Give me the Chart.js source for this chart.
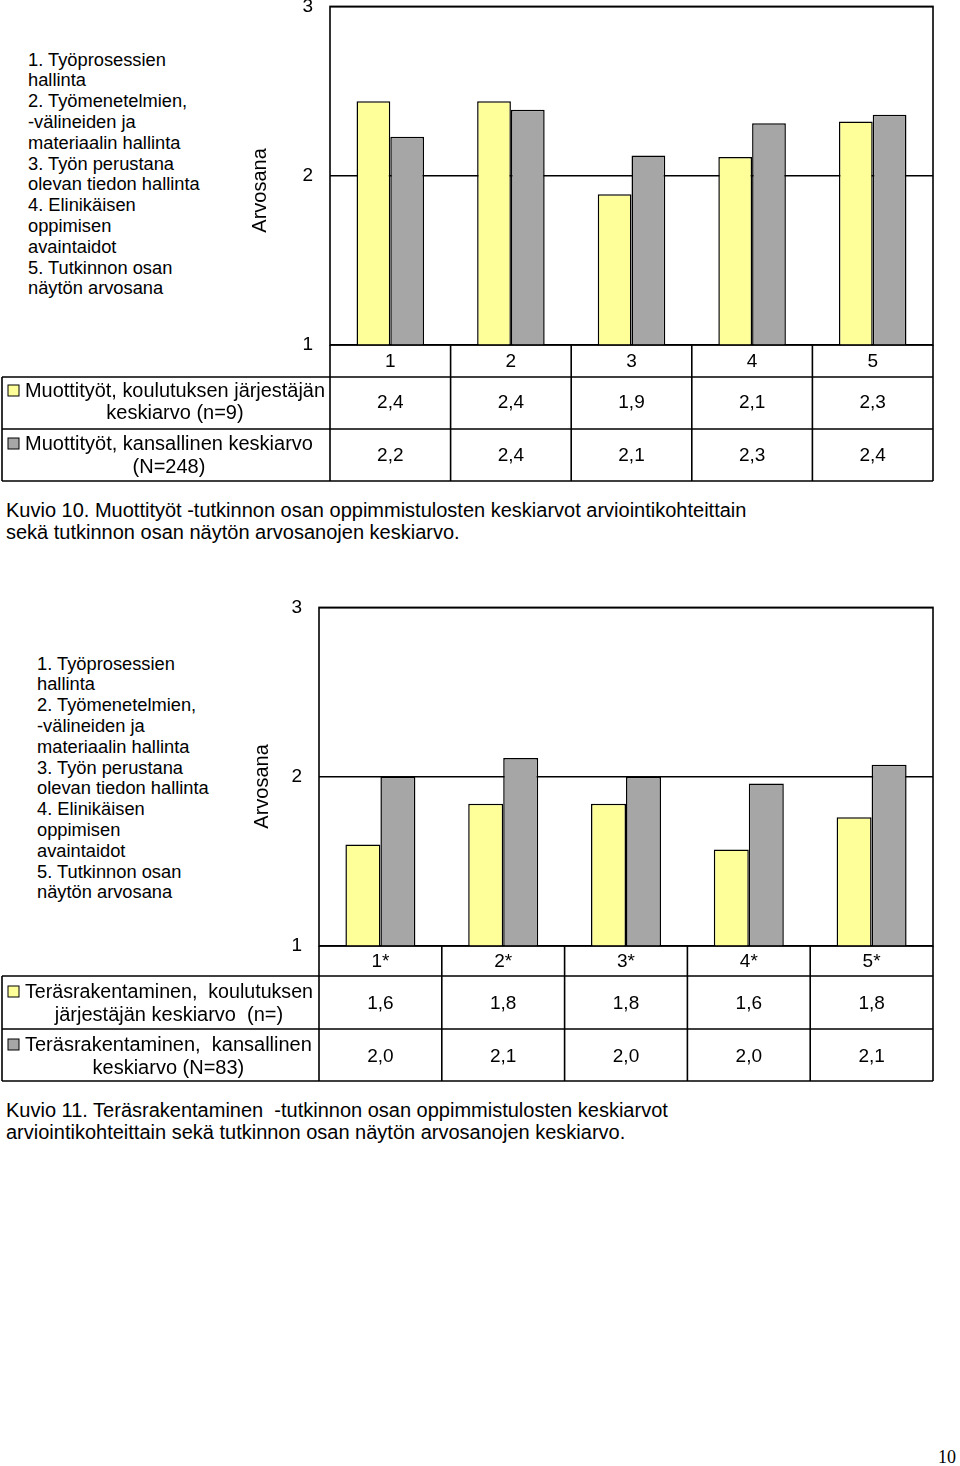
<!DOCTYPE html>
<html>
<head>
<meta charset="utf-8">
<script src="https://cdn.jsdelivr.net/npm/chart.js@4.4.0/dist/chart.umd.min.js"></script>
<style>
  body { margin: 0; background: #fff; }
  #page { position: relative; width: 960px; height: 1466px; overflow: hidden; font-family: Arial, "Liberation Sans", sans-serif; color: #000; }
  canvas { position: absolute; left: 0; }
  .notes { position: absolute; font-size: 18.3px; line-height: 20.8px; white-space: nowrap; }
  .caption { position: absolute; left: 6px; font-size: 20px; line-height: 22.5px; white-space: nowrap; }
  .pageno { position: absolute; left: 938px; top: 1447px; font-family: "Liberation Serif", "DejaVu Serif", serif; font-size: 18px; }
</style>
</head>
<body>
<div id="page">
  <div class="notes" style="left:28px; top:49.6px;">1. Työprosessien<br>hallinta<br>2. Työmenetelmien,<br>-välineiden ja<br>materiaalin hallinta<br>3. Työn perustana<br>olevan tiedon hallinta<br>4. Elinikäisen<br>oppimisen<br>avaintaidot<br>5. Tutkinnon osan<br>näytön arvosana</div>
  <canvas id="chart10" width="960" height="520" style="top:-22px;"></canvas>
  <div class="caption" style="top:498.5px;">Kuvio 10. Muottityöt -tutkinnon osan oppimmistulosten keskiarvot arviointikohteittain<br>sekä tutkinnon osan näytön arvosanojen keskiarvo.</div>

  <div class="notes" style="left:37px; top:653.6px;">1. Työprosessien<br>hallinta<br>2. Työmenetelmien,<br>-välineiden ja<br>materiaalin hallinta<br>3. Työn perustana<br>olevan tiedon hallinta<br>4. Elinikäisen<br>oppimisen<br>avaintaidot<br>5. Tutkinnon osan<br>näytön arvosana</div>
  <canvas id="chart11" width="960" height="520" style="top:579px;"></canvas>
  <div class="caption" style="top:1098.5px;">Kuvio 11. Teräsrakentaminen&nbsp; -tutkinnon osan oppimmistulosten keskiarvot<br>arviointikohteittain sekä tutkinnon osan näytön arvosanojen keskiarvo.</div>

  <div class="pageno">10</div>
</div>

<script>
  // Kuvio 10
  const items10 = ['1', '2', '3', '4', '5'];
  const local10 = [2.44, 2.44, 1.89, 2.11, 2.32];
  const national10 = [2.23, 2.39, 2.12, 2.31, 2.36];
  const names10 = [
    ['Muottityöt, koulutuksen järjestäjän', 'keskiarvo (n=9)'],
    ['Muottityöt, kansallinen keskiarvo', '(N=248)']
  ];

  // Kuvio 11
  const items11 = ['1*', '2*', '3*', '4*', '5*'];
  const local11 = [1.60, 1.84, 1.84, 1.57, 1.76];
  const national11 = [2.00, 2.11, 2.00, 1.96, 2.07];
  const names11 = [
    ['Teräsrakentaminen,  koulutuksen', 'järjestäjän keskiarvo  (n=)'],
    ['Teräsrakentaminen,  kansallinen', 'keskiarvo (N=83)']
  ];

  const yTicks = [1, 2, 3];
  const yellow = '#ffff99';
  const grey = '#a6a6a6';

  const fmt = v => v.toFixed(1).replace('.', ',');

  // draws the frame, the y title and the data table under the plot
  const tablePlugin = {
    id: 'dataTable',
    afterDraw(chart, args, opts) {
      const ctx = chart.ctx;
      const area = chart.chartArea;
      const x = chart.scales.x;
      const b = area.bottom;
      const n = chart.data.labels.length;
      const step = x.getPixelForValue(1) - x.getPixelForValue(0);
      const edges = [];
      for (let i = 0; i <= n; i++) edges.push(x.getPixelForValue(i) - step / 2);
      const r = opts.rows;

      ctx.save();
      ctx.strokeStyle = '#000';
      ctx.lineWidth = 1.6;
      ctx.strokeRect(area.left, area.top, area.right - area.left, area.bottom - area.top);

      ctx.beginPath();
      [r[0], r[1], r[2]].forEach(h => {
        ctx.moveTo(2, b + h);
        ctx.lineTo(area.right, b + h);
      });
      edges.forEach(ex => {
        ctx.moveTo(ex, b);
        ctx.lineTo(ex, b + r[2]);
      });
      ctx.moveTo(2, b + r[0]);
      ctx.lineTo(2, b + r[2]);
      ctx.stroke();

      ctx.fillStyle = '#000';
      ctx.textBaseline = 'middle';
      ctx.textAlign = 'center';
      ctx.font = '19px Arial, "Liberation Sans", sans-serif';
      chart.data.labels.forEach((lab, i) => {
        ctx.fillText(lab, x.getPixelForValue(i), b + opts.textY[0]);
      });
      chart.data.datasets.forEach((ds, k) => {
        ds.data.forEach((v, i) => {
          ctx.fillText(fmt(v), x.getPixelForValue(i), b + opts.textY[k + 1]);
        });
      });

      // legend cells
      ctx.font = '20px Arial, "Liberation Sans", sans-serif';
      chart.data.datasets.forEach((ds, k) => {
        const lines = opts.names[k];
        const y1 = b + opts.nameY[k][0];
        const y2 = b + opts.nameY[k][1];
        ctx.fillStyle = ds.backgroundColor;
        ctx.fillRect(8, y1 - 6, 11, 11);
        ctx.lineWidth = 1;
        ctx.strokeRect(8, y1 - 6, 11, 11);
        ctx.fillStyle = '#000';
        ctx.textAlign = 'left';
        const w = Math.min(ctx.measureText(lines[0]).width, opts.nameMax);
        ctx.fillText(lines[0], 25, y1, opts.nameMax);
        ctx.textAlign = 'center';
        ctx.fillText(lines[1], 25 + w / 2, y2);
      });

      // axis title
      ctx.save();
      ctx.translate(opts.titleX, area.top + opts.titleDy);
      ctx.rotate(-Math.PI / 2);
      ctx.font = '20px Arial, "Liberation Sans", sans-serif';
      ctx.textAlign = 'center';
      ctx.fillText('Arvosana', 0, 0);
      ctx.restore();

      ctx.restore();
    }
  };

  function makeChart(id, labels, local, national, names, axisWidth, catPct, table) {
    return new Chart(document.getElementById(id), {
      type: 'bar',
      data: {
        labels: labels,
        datasets: [
          {
            data: local,
            backgroundColor: yellow,
            borderColor: '#000',
            borderWidth: 1.5,
            barPercentage: 1,
            categoryPercentage: catPct
          },
          {
            data: national,
            backgroundColor: grey,
            borderColor: '#000',
            borderWidth: 1.5,
            barPercentage: 1,
            categoryPercentage: catPct
          }
        ]
      },
      options: {
        responsive: false,
        animation: false,
        layout: {
          padding: { top: 0, right: 27, bottom: 153, left: 0 }
        },
        plugins: {
          legend: { display: false },
          tooltip: { enabled: false },
          dataTable: Object.assign({ names: names }, table)
        },
        scales: {
          x: {
            display: false
          },
          y: {
            min: 1,
            max: 3,
            afterBuildTicks: scale => {
              scale.ticks = yTicks.map(v => ({ value: v }));
            },
            afterFit: scale => {
              scale.width = axisWidth;
            },
            ticks: {
              color: '#000',
              padding: 17,
              font: { family: 'Arial', size: 19 }
            },
            grid: {
              color: '#000',
              lineWidth: 1.5,
              drawTicks: false
            },
            border: { display: false }
          }
        }
      },
      plugins: [tablePlugin]
    });
  }

  makeChart('chart10', items10, local10, national10, names10, 330, 0.56, {
    rows: [32, 84, 136],
    textY: [17, 58, 111],
    nameY: [[46, 68], [99, 122]],
    nameMax: 300,
    titleX: 260,
    titleDy: 184
  });

  makeChart('chart11', items11, local11, national11, names11, 319, 0.57, {
    rows: [30, 83, 135],
    textY: [16, 58, 111],
    nameY: [[46, 69], [99, 122]],
    nameMax: 288,
    titleX: 262,
    titleDy: 179
  });
</script>
</body>
</html>
